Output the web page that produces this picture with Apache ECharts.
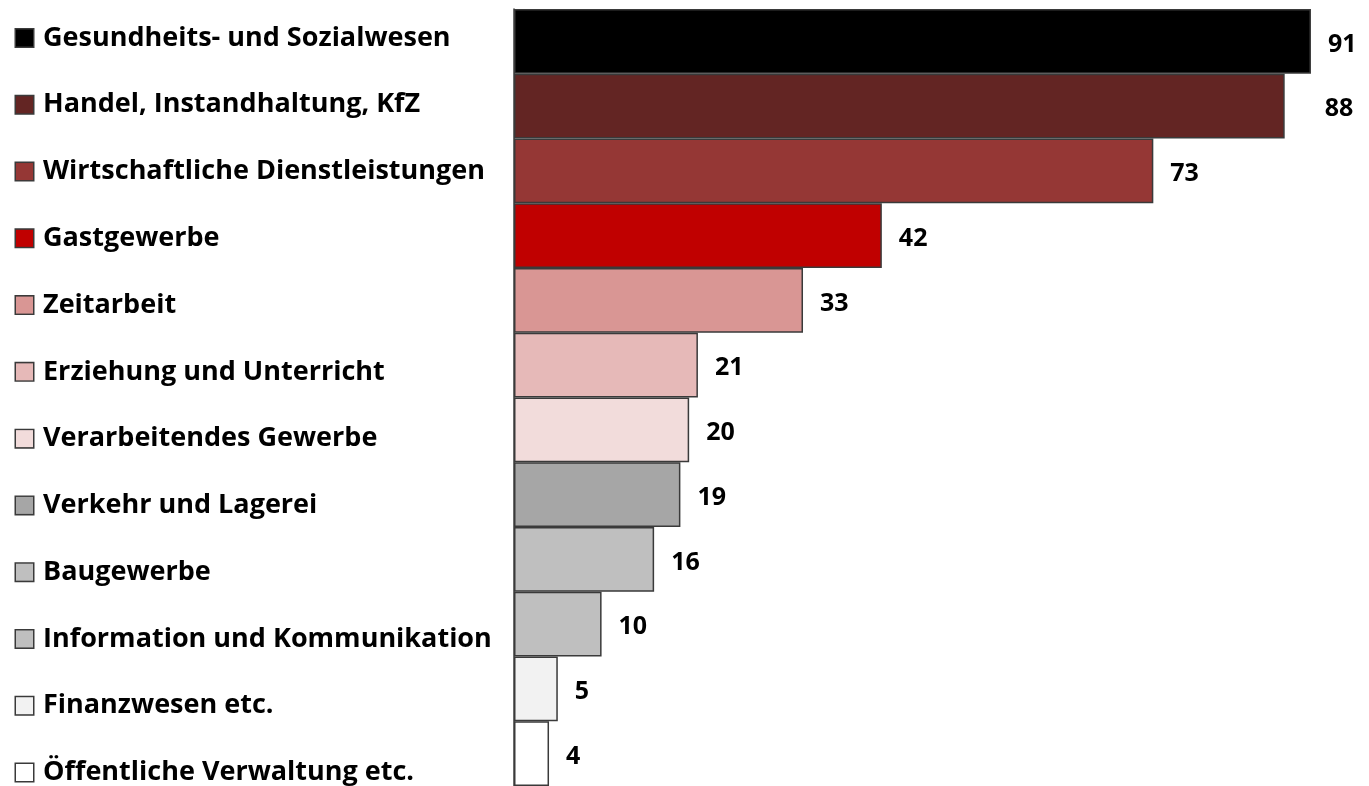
<!DOCTYPE html>
<html>
<head>
<meta charset="utf-8">
<script src="https://cdn.jsdelivr.net/npm/echarts@6/dist/echarts.min.js"></script>
<style>html,body{margin:0;padding:0;background:#fff}#c{width:1369px;height:786px}</style>
</head>
<body>
<div id="c"></div>
<script>
const categories = [
  'Gesundheits- und Sozialwesen',
  'Handel, Instandhaltung, KfZ',
  'Wirtschaftliche Dienstleistungen',
  'Gastgewerbe',
  'Zeitarbeit',
  'Erziehung und Unterricht',
  'Verarbeitendes Gewerbe',
  'Verkehr und Lagerei',
  'Baugewerbe',
  'Information und Kommunikation',
  'Finanzwesen etc.',
  'Öffentliche Verwaltung etc.'
];
const values = [91, 88, 73, 42, 33, 21, 20, 19, 16, 10, 5, 4];
const colors = ['#000000', '#632523', '#953735', '#C00000', '#D99694', '#E6B9B8',
                '#F2DCDB', '#A6A6A6', '#BFBFBF', '#BFBFBF', '#F2F2F2', '#FFFFFF'];

const FONT = '"Open Sans", sans-serif';
const border = '#3a3a3a';

const rich = { t: { fontFamily: FONT, fontWeight: 'bold', fontSize: 27, color: '#000', padding: [0, 0, 0, 10] } };
colors.forEach((c, i) => {
  rich['m' + i] = { width: 17, height: 17, backgroundColor: c, borderColor: border, borderWidth: 1.5 };
});

const barData = values.map((v, i) => {
  const item = { value: v, itemStyle: { color: colors[i] } };
  if (i === 1) item.label = { distance: 40 };
  return item;
});

const chart = echarts.init(document.getElementById('c'));
chart.setOption({
  animation: false,
  grid: [
    { left: 514, top: 9, width: 832, height: 780, containLabel: false },
    { left: 16, top: 38, width: 10, bottom: 13, containLabel: false }
  ],
  xAxis: [
    { gridIndex: 0, type: 'value', min: 0, max: 95, show: false },
    { gridIndex: 1, type: 'value', min: 0, max: 1, show: false }
  ],
  yAxis: [
    {
      gridIndex: 0, type: 'category', data: categories, inverse: true,
      axisLine: { show: true, lineStyle: { color: border, width: 1.5 } },
      axisTick: { show: false }, axisLabel: { show: false }, splitLine: { show: false }
    },
    {
      gridIndex: 1, type: 'category', data: categories, inverse: true, boundaryGap: false,
      axisLine: { show: false }, axisTick: { show: false }, splitLine: { show: false },
      axisLabel: {
        inside: true, margin: 0, align: 'left', interval: 0,
        formatter: (v, i) => '{m' + i + '|}{t|' + v + '}',
        rich: rich
      }
    }
  ],
  series: [
    {
      type: 'bar', xAxisIndex: 0, yAxisIndex: 0,
      data: barData,
      barCategoryGap: 0,
      itemStyle: { borderColor: border, borderWidth: 1.5 },
      label: {
        show: true, position: 'right', distance: 17, offset: [0, 3],
        fontFamily: FONT, fontWeight: 'bold', fontSize: 25, color: '#000'
      }
    }
  ]
});
</script>
</body>
</html>
